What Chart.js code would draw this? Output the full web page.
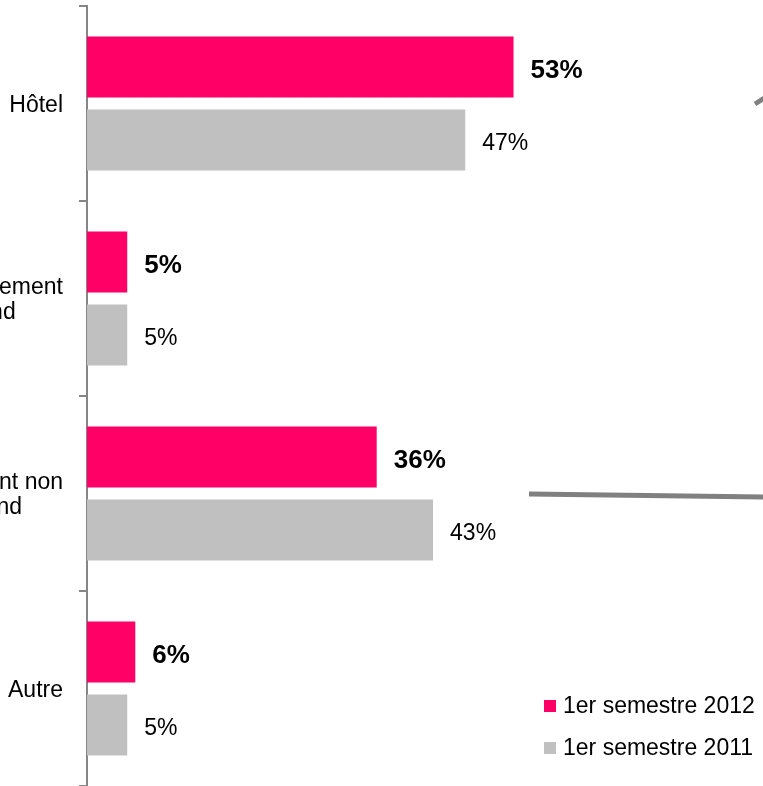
<!DOCTYPE html>
<html>
<head>
<meta charset="utf-8">
<script src="https://cdn.jsdelivr.net/npm/chart.js@4"></script>
<style>
  html, body { margin: 0; padding: 0; background: #fff; }
  #wrap { width: 763px; height: 786px; position: relative; }
</style>
</head>
<body>
<div id="wrap"><canvas id="canvas"></canvas></div>
<script>
var categories = ['Hôtel', ['Autre hébergement', 'marchand'], ['Hébergement non', 'marchand'], 'Autre'];
var seriesNames = ['1er semestre 2012', '1er semestre 2011'];
var values2012 = [53, 5, 36, 6];
var values2011 = [47, 5, 43, 5];

var pink = '#ff0066';
var grey = '#c0c0c0';
var axisGrey = '#868686';
var font = '"Liberation Sans", Arial, sans-serif';

// category names: lines centred inside a block that is right-aligned on the axis
var categoryLabels = {
  id: 'categoryLabels',
  afterDraw: function(chart) {
    var ctx = chart.ctx;
    var yScale = chart.scales.y;
    ctx.save();
    ctx.font = '23px ' + font;
    ctx.fillStyle = '#000';
    ctx.textAlign = 'center';
    ctx.textBaseline = 'middle';
    categories.forEach(function(label, i) {
      var lines = [].concat(label);
      var widest = Math.max.apply(null, lines.map(function(l) { return ctx.measureText(l).width; }));
      var cx = yScale.right - 24 - widest / 2;
      var cy = yScale.getPixelForValue(i) + 2;
      lines.forEach(function(l, j) {
        ctx.fillText(l, cx, cy + (j - (lines.length - 1) / 2) * 25);
      });
    });
    ctx.restore();
  }
};

// percentages at the end of each bar (2012 in bold)
var valueLabels = {
  id: 'valueLabels',
  afterDatasetsDraw: function(chart) {
    var ctx = chart.ctx;
    ctx.save();
    ctx.textAlign = 'left';
    ctx.textBaseline = 'middle';
    ctx.fillStyle = '#000';
    chart.data.datasets.forEach(function(ds, d) {
      ctx.font = (d === 0 ? 'bold 26px ' : '23px ') + font;
      chart.getDatasetMeta(d).data.forEach(function(bar, i) {
        ctx.fillText(ds.data[i] + '%', bar.x + 17, bar.y + 4);
      });
    });
    ctx.restore();
  }
};

// legend in the lower right corner, over the plot
var legendBox = {
  id: 'legendBox',
  afterDraw: function(chart) {
    var ctx = chart.ctx;
    var area = chart.chartArea;
    ctx.save();
    ctx.font = '23px ' + font;
    ctx.textAlign = 'left';
    ctx.textBaseline = 'middle';
    chart.data.datasets.forEach(function(ds, d) {
      var x = area.right - 219;
      var y = area.bottom - 80 + d * 42;
      ctx.fillStyle = ds.backgroundColor;
      ctx.fillRect(x, y - 6, 12, 12);
      ctx.fillStyle = '#000';
      ctx.fillText(ds.label, x + 19, y + 1);
    });
    ctx.restore();
  }
};

// grey connector strokes running off the right edge
var connectors = {
  id: 'connectors',
  afterDraw: function(chart) {
    var ctx = chart.ctx;
    ctx.save();
    ctx.strokeStyle = '#808080';
    ctx.lineWidth = 5;
    ctx.beginPath();
    ctx.moveTo(529, 494);
    ctx.lineTo(765, 497);
    ctx.moveTo(755, 104);
    ctx.lineTo(766, 97);
    ctx.stroke();
    ctx.restore();
  }
};

var canvas = document.getElementById('canvas');
var chart = new Chart(canvas, {
  type: 'bar',
  data: {
    labels: categories,
    datasets: [
      { label: seriesNames[0], data: values2012, backgroundColor: pink, categoryPercentage: 0.749, barPercentage: 0.836 },
      { label: seriesNames[1], data: values2011, backgroundColor: grey, categoryPercentage: 0.749, barPercentage: 0.836 }
    ]
  },
  options: {
    indexAxis: 'y',
    responsive: true,
    maintainAspectRatio: false,
    animation: false,
    layout: { padding: { top: 6, bottom: 0, left: 0, right: 0 } },
    plugins: {
      legend: { display: false },
      tooltip: { enabled: false }
    },
    scales: {
      x: { display: false, min: 0, max: 84 },
      y: {
        grid: { drawOnChartArea: false, color: axisGrey, lineWidth: 2, tickLength: 8, offset: true },
        border: { display: true, color: axisGrey, width: 2 },
        ticks: { display: false },
        afterFit: function(scale) { scale.width = 87; }
      }
    }
  },
  plugins: [categoryLabels, valueLabels, legendBox, connectors]
});
</script>
</body>
</html>
